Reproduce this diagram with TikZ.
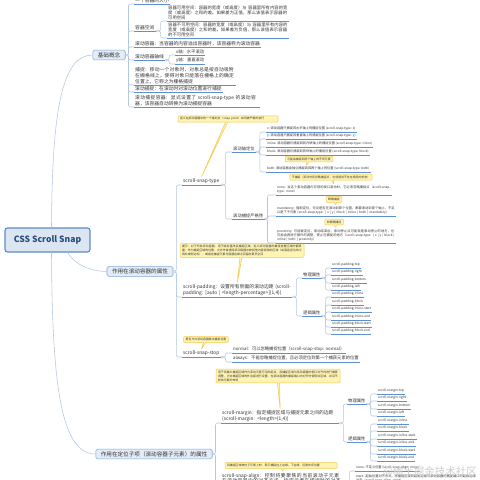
\documentclass[tikz,border=0pt]{standalone}
\usepackage{fontspec}
\setmainfont{Noto Sans CJK SC}
\XeTeXlinebreaklocale "zh"
\XeTeXlinebreakskip=0pt plus 1pt
\usetikzlibrary{shapes.callouts}

\definecolor{rootfill}{HTML}{DCE6F2}
\definecolor{rootline}{HTML}{5A8BC8}
\definecolor{roottext}{HTML}{2B4C7E}
\definecolor{topicfill}{HTML}{E3ECF7}
\definecolor{topicline}{HTML}{7EA6D6}
\definecolor{inktext}{HTML}{333333}
\definecolor{ulinecol}{HTML}{5E90CF}
\definecolor{linkcol}{HTML}{B5C7DD}
\definecolor{tipfill}{HTML}{FFF4B3}
\definecolor{tipline}{HTML}{F3C94E}

\newcommand{\fsz}[2]{\fontsize{#1}{#2}\selectfont}

\begin{document}
\begin{tikzpicture}[x=1pt,y=-1pt,
  rootnode/.style={draw=rootline,line width=1.1pt,rounded corners=2.5pt,fill=rootfill,text=roottext,font=\fsz{8.6}{10}\bfseries,minimum width=85pt,minimum height=24pt},
  topicnode/.style={draw=topicline,line width=.6pt,rounded corners=1.5pt,fill=topicfill,text=inktext,font=\fsz{5.6}{7},inner xsep=5pt,inner ysep=2.2pt},
  subnode/.style={anchor=south west,align=left,inner xsep=1pt,inner ysep=1.1pt,text=inktext,font=\fsz{4.8}{5.6}},
  midnode/.style={subnode,font=\fsz{4.3}{5.1}},
  leafnode/.style={subnode,font=\fsz{3.2}{4.3}},
  tipnode/.style={rectangle callout,draw=tipline,fill=tipfill,line width=.5pt,rounded corners=1pt,callout pointer width=2pt,align=left,text=inktext,font=\fsz{2.9}{3.9},inner xsep=2pt,inner ysep=1.6pt},
  wmark/.style={font=\fsz{10.5}{12},text=gray!40},
  uline/.style={draw=ulinecol,line width=.7pt},
  link/.style={draw=linkcol,line width=.55pt,rounded corners=2pt},
  knob/.style={draw=linkcol,fill=white,line width=.4pt}]
\clip (0,0) rectangle (480,480);
\fill[white] (0,0) rectangle (480,480);

% main topics
\node[rootnode] (root) at (47.5,240) {CSS Scroll Snap};
\node[topicnode] (basics) at (109,55) {基础概念};
\node[topicnode] (boxprops) at (140,271.5) {作用在滚动容器的属性};
\node[topicnode] (childprops) at (154,454) {作用在定位子项（滚动容器子元素）的属性};
\draw[link] ([xshift=4pt]root.north) .. controls (52,110) and (62,55) .. (basics.west);
\draw[link] ([xshift=20pt]root.south) .. controls (74,264) and (90,271.5) .. (boxprops.west);
\draw[link] ([xshift=4pt]root.south) .. controls (52,390) and (62,454) .. (childprops.west);

% basics
\node[subnode] (bsize) at (134,4) {一个容器的大小};
\node[subnode] (bspace) at (134,31) {容器空间};
\node[midnode,text width=120pt] (bfree) at (167,21) {容器可用空间：容器的宽度（或高度）与 容器里所有内容的宽度（或高度）之和的差。如果差为正值，那么该值表示容器的可用空间};
\node[midnode,text width=120pt] (bnofree) at (167,38) {容器不可用空间：容器的宽度（或高度）与 容器里所有内容的宽度（或高度）之和的差。如果差为负值，那么该值表示容器的不可用空间};
\node[subnode] (bscroll) at (134,47) {滚动容器：当容器的内容溢出容器时，该容器称为滚动容器};
\node[subnode] (baxis) at (134,60) {滚动容器轴线};
\node[midnode] (bx) at (175,55) {x轴：水平滚动};
\node[midnode] (by) at (175,64) {y轴：垂直滚动};
\node[subnode,text width=100pt] (bsnap) at (134,85) {捕捉：移动一个对象时，对象总是按自动吸附在栅格线上，使得对象只能落在栅格上的确定位置上，它称之为栅格捕捉};
\node[subnode] (bsscroll) at (134,92) {滚动捕捉：在滚动时对滚动位置进行捕捉};
\node[subnode,text width=124pt] (bscont) at (134,107) {滚动捕捉容器：显式设置了 scroll-snap-type 的滚动容器，该容器自动转换为滚动捕捉容器};
\foreach \c in {bsize,bspace,bscroll,baxis,bsnap,bsscroll,bscont}
  \draw[link] (basics.east) -- ++(3,0) |- (\c.south west);
\foreach \c in {bfree,bnofree} \draw[link] (bspace.south east) -- ++(5,0) |- (\c.south west);
\foreach \c in {bx,by} \draw[link] (baxis.south east) -- ++(4,0) |- (\c.south west);

% container properties
\node[subnode] (snaptype) at (182,185) {scroll-snap-type};
\node[tipnode,text width=96pt,callout absolute pointer={(snaptype.north)}] (tiptype) at (228,119) {定义在滚动容器中的一个临时点（snap point）如何被严格的执行};
\node[midnode] (axispos) at (232,152) {滚动轴定位};
\node[midnode] (strict) at (232,219) {滚动捕捉严格性};
\node[leafnode] (ax) at (266,132) {x: 滚动容器只捕捉其水平轴上的捕捉位置 (scroll-snap-type: x)};
\node[leafnode] (ay) at (266,139) {y: 滚动容器只捕捉其垂直轴上的捕捉位置 (scroll-snap-type: y)};
\node[leafnode] (ainline) at (266,147) {inline: 滚动容器仅捕捉到其内联轴上的捕捉位置 (scroll-snap-type: inline)};
\node[leafnode] (ablock) at (266,155) {block: 滚动容器仅捕捉到其块轴上的捕捉位置 (scroll-snap-type: block)};
\node[leafnode] (aboth) at (266,172) {both: 滚动容器会独立捕捉到其两个轴上的位置 (scroll-snap-type: both)};
\node[tipnode,callout absolute pointer={([xshift=-12pt]aboth.north)}] (tipboth) at (309,159) {可能会捕捉到两个轴上的不同元素};
\node[leafnode,text width=114pt] (snone) at (276,195) {none: 当这个滚动容器内可视的视口滚动时，它必须忽略捕捉点（scroll-snap-type: none）};
\node[tipnode,callout absolute pointer={(snone.north)}] (tipnone) at (331,177) {不捕捉（滚动时将忽略捕捉点，也就是说不存在使用的状态）};
\node[leafnode,text width=118pt] (smand) at (276,216) {mandatory: 强制定位，无论是否在滚动到那个位置，都要滚动到那个轴上，不足以是下子元素 (scroll-snap-type: [ x | y | block | inline | both ] mandatory)};
\node[tipnode,callout absolute pointer={(smand.north)}] (tipmand) at (334,199.5) {精确捕捉};
\node[leafnode,text width=118pt] (sprox) at (276,243) {proximity: 可能被定位，滚动结束后，滚动停止点可能就是滚动停止的地方，也可能会再进行额外的调整，使止在捕捉的地方（scroll-snap-type: [ x | y | block | inline | both ] proximity）};
\node[tipnode,callout absolute pointer={(sprox.north)}] (tipprox) at (334,222) {非精确捕捉};
\foreach \c in {axispos,strict} \draw[link] (snaptype.south east) -- ++(5,0) |- (\c.south west);
\foreach \c in {ax,ay,ainline,ablock,aboth} \draw[link] (axispos.south east) -- ++(4,0) |- (\c.south west);
\foreach \c in {snone,smand,sprox} \draw[link] (strict.south east) -- ++(3,0) |- (\c.south west);

\node[subnode,text width=108pt] (padding) at (182,297) {scroll-padding：设置所有侧面的滚动边距 (scroll-padding: [auto | <length-percentage>]\{1,4\})};
\node[tipnode,text width=120pt,callout absolute pointer={(padding.north)}] (tippad) at (242,250.5) {提示：对于所有滚动容器，用于给定值改变捕捉区域。定义滚动容器的最佳查看区域的偏移量，作为捕捉区域的位置，允许作者排除滚动容器中被其他内容遮挡的区域（如固定定位的工具栏或侧边栏），或者在捕捉元素与容器边缘之间留出更多空间};
\node[midnode] (physpad) at (302,278) {物理属性};
\node[midnode] (logpad) at (302,316) {逻辑属性};
\foreach \n/\y/\s in {1/268/top,2/275/right,3/283/bottom,4/290/left}
  \node[leafnode] (pp\n) at (331,\y) {scroll-padding-\s};
\foreach \n/\y/\s in {1/297/inline,2/305/block,3/312/inline-start,4/320/inline-end,5/327/block-start,6/334/block-end}
  \node[leafnode] (lp\n) at (331,\y) {scroll-padding-\s};
\foreach \c in {physpad,logpad} \draw[link] (padding.south east) -- ++(4,0) |- (\c.south west);
\foreach \n in {1,...,4} \draw[link] (physpad.south east) -- ++(4,0) |- (pp\n.south west);
\foreach \n in {1,...,6} \draw[link] (logpad.south east) -- ++(4,0) |- (lp\n.south west);

\node[subnode] (snapstop) at (182,357) {scroll-snap-stop};
\node[tipnode,callout absolute pointer={(snapstop.north)}] (tipstop) at (206,339.5) {是否允许滚动容器跳过捕捉位置};
\node[midnode] (snormal) at (232,353) {normal：可以忽略捕捉位置（scroll-snap-stop: normal）};
\node[midnode] (salways) at (232,362) {always：不能忽略捕捉位置，且必须定位到第一个捕获元素的位置};
\foreach \c in {snormal,salways} \draw[link] (snapstop.south east) -- ++(5,0) |- (\c.south west);
\foreach \c in {snaptype,padding,snapstop} \draw[link] (boxprops.east) -- ++(3,0) |- (\c.south west);

% child properties
\node[subnode,text width=116pt] (margin) at (221,423) {scroll-margin：指定捕捉区域与捕捉元素之间的边距\\(scroll-margin: <length>\{1,4\})};
\node[tipnode,text width=120pt,callout absolute pointer={(margin.north)}] (tipmargin) at (278,376) {用于将最大捕捉区域作为滚动元素可见的起点，将捕捉区域与滚动容器的视口对齐时进行偏移调整。它对捕捉区域的外边距进行设置，在滚动容器的捕捉端口内对齐时使用该区域，并且不影响元素的布局};
\node[midnode] (physmar) at (347,404) {物理属性};
\node[midnode] (logmar) at (347,442) {逻辑属性};
\foreach \n/\y/\s in {1/394/top,2/401/right,3/409/bottom,4/416/left}
  \node[leafnode] (pm\n) at (377,\y) {scroll-margin-\s};
\foreach \n/\y/\s in {1/424/inline,2/431/block,3/439/inline-start,4/446/inline-end,5/454/block-start,6/461/block-end}
  \node[leafnode] (lm\n) at (377,\y) {scroll-margin-\s};
\foreach \c in {physmar,logmar} \draw[link] (margin.south east) -- ++(4,0) |- (\c.south west);
\foreach \n in {1,...,4} \draw[link] (physmar.south east) -- ++(4,0) |- (pm\n.south west);
\foreach \n in {1,...,6} \draw[link] (logmar.south east) -- ++(4,0) |- (lm\n.south west);

\node[subnode,anchor=north west,text width=122pt] (align) at (221,472) {scroll-snap-align：控制将要聚焦的当前滚动子元素在滚动容器中的对齐方式，指定元素在捕捉时的对齐位置（scroll-snap-align: [ none | start | end | center ]\{1,2\}）};
\node[tipnode,text width=108pt,callout absolute pointer={(align.north)}] (tipalign) at (281,465.5) {将捕捉区域放在子元素上的，表示捕捉在上边缘、下边缘，还是中间位置};
\node[leafnode] (anone) at (355,471) {none: 不定义位置 (scroll-snap-align: none)};
\node[leafnode,text width=120pt] (astart) at (355,484) {start: 起始位置对齐方式，将捕捉区域的起始边缘与滚动容器的捕捉端口的起始边缘对齐（scroll-snap-align: start）};
\foreach \c in {anone,astart} \draw[link] (align.south east) -- ++(4,0) |- (\c.south west);
\foreach \c in {margin,align} \draw[link] (childprops.east) -- ++(3,0) |- (\c.south west);

% underlines and knobs
\foreach \c in {bsize,bspace,bfree,bnofree,bscroll,baxis,bx,by,bsnap,bsscroll,bscont,
  snaptype,axispos,strict,ax,ay,ainline,ablock,aboth,snone,smand,sprox,
  padding,physpad,logpad,pp1,pp2,pp3,pp4,lp1,lp2,lp3,lp4,lp5,lp6,snapstop,snormal,salways,
  margin,physmar,logmar,pm1,pm2,pm3,pm4,lm1,lm2,lm3,lm4,lm5,lm6,align,anone,astart}
  \draw[uline] (\c.south west) -- (\c.south east);
\foreach \c in {basics,boxprops,childprops}
  \draw[knob] (\c.east) ++(1.5,0) circle[radius=1.2];
\foreach \c in {bspace,baxis,snaptype,axispos,strict,padding,physpad,logpad,snapstop,margin,physmar,logmar,align}
  \draw[knob] (\c.south east) ++(1.5,0) circle[radius=1.2];

\node[wmark] (mark) at (430,472) {@稀土掘金技术社区};
\end{tikzpicture}
\end{document}
